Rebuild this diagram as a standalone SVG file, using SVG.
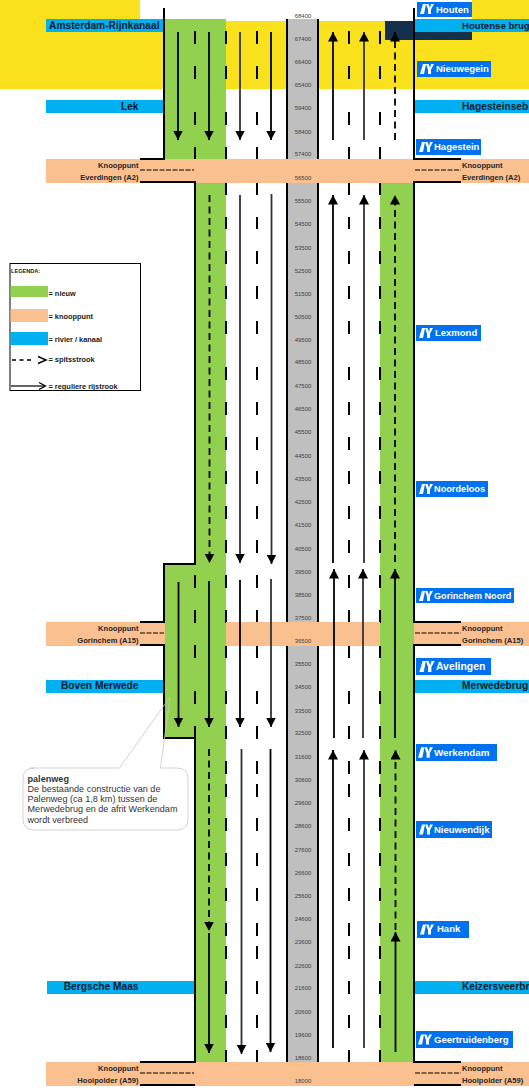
<svg xmlns="http://www.w3.org/2000/svg" xmlns:xlink="http://www.w3.org/1999/xlink" width="529" height="1088" viewBox="0 0 529 1088">
<style>
text{font-family:"Liberation Sans",Arial,sans-serif}
.riv{font-size:10.2px;font-weight:bold;fill:#0b1b2b}
.kn{font-size:7.6px;font-weight:bold;fill:#262626}
.km{font-size:6px;fill:#404040;text-anchor:middle}
.sign{font-size:9.5px;font-weight:bold;fill:#fff}
.leg{font-size:7.4px;font-weight:bold;fill:#1a1a1a}
.call{font-size:9.1px;fill:#333}
.end{text-anchor:end}
.edge{stroke:#000;stroke-width:2;fill:none}
.thin{stroke:#000;stroke-width:1;fill:none;stroke-dasharray:5 1.5}
.lane{stroke:#000;stroke-width:2;fill:none}
.a{stroke:#000;stroke-width:1.8;fill:none;marker-end:url(#h)}
.g{stroke:#333;stroke-width:1.8;fill:none;marker-end:url(#h)}
.da{stroke:#000;stroke-width:1.8;fill:none;stroke-dasharray:7 4.5;marker-end:url(#h)}
</style>
<defs>
<marker id="h" markerUnits="userSpaceOnUse" markerWidth="10" markerHeight="10" refX="9.500" refY="5" orient="auto"><path d="M0 0L9.500 5L0 10Z" fill="#000"/></marker>
<symbol id="ic" viewBox="0 0 14 10"><path d="M0 10L3 0H6L4 10ZM6 0H8.500L10 4L11 0H14L11 5.500V10H8V5.500Z" fill="#fff"/></symbol>
<path id="ld" d="M0 31V44M0 66V79M0 112V125M0 147V160M0 182V195M0 217V229M0 251V264M0 286V299M0 321V334M0 367V380M0 402V415M0 437V450M0 471V484M0 506V519M0 540V553M0 575V588M0 610V623M0 646V658M0 691V704M0 726V739M0 761V774M0 784V797M0 818V831M0 853V866M0 888V901M0 923V936M0 946V959M0 981V994M0 1015V1028M0 1050V1062"/>
</defs>

<g id="background">
<path d="M0 0H140V21H164V89H0Z" fill="#fae11e"/>
<path d="M226 21H529V89H226Z" fill="#fae11e"/>
<path d="M472 0H529V21H472Z" fill="#fae11e"/>
<rect x="385" y="21" width="87" height="19" fill="#14304d"/>
<rect x="165" y="19" width="61" height="140" fill="#92d050"/>
<rect x="196" y="181" width="30" height="881" fill="#92d050"/>
<rect x="165" y="564" width="31" height="174" fill="#92d050"/>
<rect x="380" y="183" width="34" height="879" fill="#92d050"/>
<rect x="288" y="19" width="30" height="1043" fill="#bfbfbf"/>
</g>

<g id="lanes">
<use xlink:href="#ld" href="#ld" x="226" class="lane"/>
<use xlink:href="#ld" href="#ld" x="257" class="lane"/>
<use xlink:href="#ld" href="#ld" x="349" class="lane"/>
<use xlink:href="#ld" href="#ld" x="380" class="lane"/>
<path class="lane" d="M195 31V44M195 66V79M195 112V125M195 147V160M195 575V588M195 610V623M195 645V658M195 691V704M195 726V739"/>
<path class="edge" d="M287 19V1062M318 19V1062"/>
</g>

<g id="knooppunt-everdingen"><rect x="46" y="159" width="483" height="24" fill="#fac090"/></g>
<g id="knooppunt-gorinchem"><path d="M46 622H165V646H46ZM226 622H380V646H226ZM414 622H529V646H414Z" fill="#fac090"/></g>
<g id="knooppunt-hooipolder"><rect x="46" y="1062" width="483" height="24" fill="#fac090"/></g>

<g id="road-edges">
<path class="edge" d="M164 8V159H140M140 182H195V564H164V622H140M140 645H164V738H195V1062H140M140 1085H195"/>
<path class="edge" d="M414 8V159H461M461 182H414V622H461M461 645H414V1062H461M461 1085H414"/>
<path class="thin" d="M140 170H194M140 633H164M140 1073H194M415 170H461M415 633H461M415 1073H461"/>
</g>

<g id="connectors">
<path class="a" d="M178 32V140"/><path class="a" d="M209 32V140"/><path class="g" d="M240 32V140"/><path class="a" d="M271 32V140"/>
<path class="a" d="M333 140V32"/><path class="g" d="M364 140V32"/><path class="da" d="M395 140V32"/>
<path class="da" d="M209.500 195V563"/><path class="g" d="M240 195V563"/><path class="g" d="M271.500 194V564"/>
<path class="a" d="M333 563V195"/><path class="g" d="M364 563V195"/><path class="da" d="M395 562V195"/>
<path class="a" d="M178.500 582V727"/><path class="a" d="M209 581V727"/><path class="a" d="M240 580V727"/><path class="g" d="M271 579V727"/>
<path class="a" d="M334 738V569"/><path class="g" d="M363 738V569"/><path class="a" d="M395 738V569"/>
<path class="da" d="M209 749V931"/><path class="a" d="M209 933V1053"/><path class="g" d="M241.500 749V1054"/><path class="a" d="M270.500 749V1052"/>
<path class="a" d="M333 1048V750"/><path class="g" d="M364 1048V750"/><path class="da" d="M395.500 930V750"/><path class="a" d="M395.500 1052V932"/>
</g>

<g id="km-posts">
<text class="km" x="303" y="18">68400</text><text class="km" x="303" y="41">67400</text><text class="km" x="303" y="64">66400</text><text class="km" x="303" y="87">65400</text><text class="km" x="303" y="110">59400</text><text class="km" x="303" y="134">58400</text><text class="km" x="303" y="156">57400</text><text class="km" x="303" y="180">56500</text><text class="km" x="303" y="203">55500</text><text class="km" x="303" y="226">54500</text><text class="km" x="303" y="250">53500</text><text class="km" x="303" y="273">52500</text><text class="km" x="303" y="296">51500</text><text class="km" x="303" y="319">50500</text><text class="km" x="303" y="342">49500</text><text class="km" x="303" y="364">48500</text><text class="km" x="303" y="388">47500</text><text class="km" x="303" y="411">46500</text><text class="km" x="303" y="434">45500</text><text class="km" x="303" y="458">44500</text><text class="km" x="303" y="481">43500</text><text class="km" x="303" y="504">42500</text><text class="km" x="303" y="527">41500</text><text class="km" x="303" y="551">40500</text><text class="km" x="303" y="574">39500</text><text class="km" x="303" y="597">38500</text><text class="km" x="303" y="620">37500</text><text class="km" x="303" y="643">36500</text><text class="km" x="303" y="666">35500</text><text class="km" x="303" y="689">34500</text><text class="km" x="303" y="713">33500</text><text class="km" x="303" y="735">32500</text><text class="km" x="303" y="759">31600</text><text class="km" x="303" y="782">30600</text><text class="km" x="303" y="805">29600</text><text class="km" x="303" y="828">28600</text><text class="km" x="303" y="852">27600</text><text class="km" x="303" y="875">26600</text><text class="km" x="303" y="898">25600</text><text class="km" x="303" y="921">24600</text><text class="km" x="303" y="944">23600</text><text class="km" x="303" y="968">22600</text><text class="km" x="303" y="990">21600</text><text class="km" x="303" y="1014">20600</text><text class="km" x="303" y="1037">19600</text><text class="km" x="303" y="1060">18600</text><text class="km" x="303" y="1083">18000</text>
</g>

<g id="knooppunt-labels">
<text class="kn end" x="138.500" y="168">Knooppunt</text><text class="kn end" x="138.500" y="180">Everdingen (A2)</text>
<text class="kn" x="462" y="168">Knooppunt</text><text class="kn" x="462" y="180">Everdingen (A2)</text>
<text class="kn end" x="138.500" y="631">Knooppunt</text><text class="kn end" x="138.500" y="643">Gorinchem (A15)</text>
<text class="kn" x="462" y="631">Knooppunt</text><text class="kn" x="462" y="643">Gorinchem (A15)</text>
<text class="kn end" x="138.500" y="1071">Knooppunt</text><text class="kn end" x="138.500" y="1083">Hooipolder (A59)</text>
<text class="kn" x="462" y="1071">Knooppunt</text><text class="kn" x="462" y="1083">Hooipolder (A59)</text>
</g>

<g id="river-amsterdam-rijnkanaal"><rect x="46" y="19" width="117" height="13" fill="#00b0f0"/><text class="riv end" x="159.500" y="29">Amsterdam-Rijnkanaal</text></g>
<g id="river-lek"><rect x="46" y="100" width="117" height="13" fill="#00b0f0"/><text class="riv end" x="138.500" y="110">Lek</text></g>
<g id="river-boven-merwede"><rect x="46" y="680" width="117" height="13" fill="#00b0f0"/><text class="riv end" x="138.500" y="689">Boven Merwede</text></g>
<g id="river-bergsche-maas"><rect x="47" y="981" width="147" height="13" fill="#00b0f0"/><text class="riv end" x="138.500" y="990">Bergsche Maas</text></g>
<g id="river-houtense-brug"><rect x="415" y="19" width="114" height="13" fill="#00b0f0"/><text class="riv" style="font-size:9.600px" x="462" y="29">Houtense brug</text></g>
<g id="river-hagesteinsebrug"><rect x="415" y="100" width="114" height="13" fill="#00b0f0"/><text class="riv" x="462" y="110">Hagesteinseb</text></g>
<g id="river-merwedebrug"><rect x="415" y="680" width="114" height="13" fill="#00b0f0"/><text class="riv" x="462" y="689">Merwedebrug</text></g>
<g id="river-keizersveerbrug"><rect x="415" y="981" width="114" height="13" fill="#00b0f0"/><text class="riv" x="462" y="990">Keizersveerbr</text></g>

<g id="sign-houten"><rect x="417" y="2" width="55" height="15" fill="#0072f0"/><use xlink:href="#ic" href="#ic" x="420" y="4" width="14" height="10"/><text class="sign" x="436" y="13">Houten</text></g>
<g id="sign-nieuwegein"><rect x="417" y="61" width="74" height="16" fill="#0072f0"/><use xlink:href="#ic" href="#ic" x="420" y="64" width="14" height="10"/><text class="sign" x="436" y="72">Nieuwegein</text></g>
<g id="sign-hagestein"><rect x="416" y="139" width="65" height="16" fill="#0072f0"/><use xlink:href="#ic" href="#ic" x="419" y="142" width="14" height="10"/><text class="sign" x="434" y="150">Hagestein</text></g>
<g id="sign-lexmond"><rect x="416" y="325" width="65" height="16" fill="#0072f0"/><use xlink:href="#ic" href="#ic" x="419" y="328" width="14" height="10"/><text class="sign" x="435" y="336">Lexmond</text></g>
<g id="sign-noordeloos"><rect x="416" y="481" width="72" height="16" fill="#0072f0"/><use xlink:href="#ic" href="#ic" x="419" y="484" width="14" height="10"/><text class="sign" style="font-size:9.200px" x="434" y="492">Noordeloos</text></g>
<g id="sign-gorinchem-noord"><rect x="416" y="588" width="98" height="15" fill="#0072f0"/><use xlink:href="#ic" href="#ic" x="419" y="591" width="14" height="10"/><text class="sign" style="font-size:9.100px" x="434" y="599">Gorinchem Noord</text></g>
<g id="sign-avelingen"><rect x="416" y="658" width="75" height="17" fill="#0072f0"/><use xlink:href="#ic" href="#ic" x="419" y="661" width="16" height="11"/><text class="sign" style="font-size:10.4px" x="436" y="670">Avelingen</text></g>
<g id="sign-werkendam"><rect x="416" y="744" width="81" height="17" fill="#0072f0"/><use xlink:href="#ic" href="#ic" x="418" y="747" width="15" height="11"/><text class="sign" style="font-size:9.8px" x="434" y="756">Werkendam</text></g>
<g id="sign-nieuwendijk"><rect x="416" y="821" width="76" height="17" fill="#0072f0"/><use xlink:href="#ic" href="#ic" x="419" y="824" width="14" height="11"/><text class="sign" x="434" y="833">Nieuwendijk</text></g>
<g id="sign-hank"><rect x="417" y="921" width="52" height="17" fill="#0072f0"/><use xlink:href="#ic" href="#ic" x="420" y="924" width="14" height="11"/><text class="sign" x="437" y="932">Hank</text></g>
<g id="sign-geertruidenberg"><rect x="416" y="1031" width="97" height="17" fill="#0072f0"/><use xlink:href="#ic" href="#ic" x="418" y="1034" width="14" height="11"/><text class="sign" x="434" y="1043">Geertruidenberg</text></g>

<g id="legend">
<rect x="10" y="263.500" width="130.500" height="127" fill="#fff" stroke="#000" stroke-width="1"/>
<text class="leg" style="font-size:5.600px" x="11" y="272.500">LEGENDA:</text>
<rect x="10.500" y="286" width="37.500" height="11" fill="#92d050"/><text class="leg" x="48.500" y="295.500">= nieuw</text>
<rect x="10.500" y="309" width="37.500" height="13" fill="#fac090"/><text class="leg" x="48.500" y="318.500">= knooppunt</text>
<rect x="10.500" y="332" width="37.500" height="13" fill="#00b0f0"/><text class="leg" x="48.500" y="341.500">= rivier / kanaal</text>
<path d="M12 360H34" stroke="#000" stroke-width="1.300" stroke-dasharray="4 3.500" fill="none"/><path d="M38 356.500L46 360L38 363.500" stroke="#000" stroke-width="1.500" fill="none"/><text class="leg" x="48.500" y="361.500">= spitsstrook</text>
<path d="M11 386H45" stroke="#333" stroke-width="1.300" fill="none"/><path d="M39 382.500L45.500 386L39 389.500" stroke="#000" stroke-width="1.300" fill="none"/><text class="leg" x="48.500" y="388.500">= reguliere rijstrook</text>
</g>

<g id="callout-palenweg">
<path d="M31 768H119.500L170 697L160.500 768H177Q188 768 188 779V819Q188 830 177 830H34Q23 830 23 819V779Q23 768 34 768Z" fill="none" stroke="#c8c8c8" stroke-width="0.800"/>
<text class="call" style="font-weight:bold" x="27.500" y="782">palenweg</text>
<text class="call" x="27.500" y="792">De bestaande constructie van de</text>
<text class="call" x="27.500" y="802">Palenweg (ca 1,8 km) tussen de</text>
<text class="call" x="27.500" y="812">Merwedebrug en de afrit Werkendam</text>
<text class="call" x="27.500" y="822.500">wordt verbreed</text>
</g>
</svg>
